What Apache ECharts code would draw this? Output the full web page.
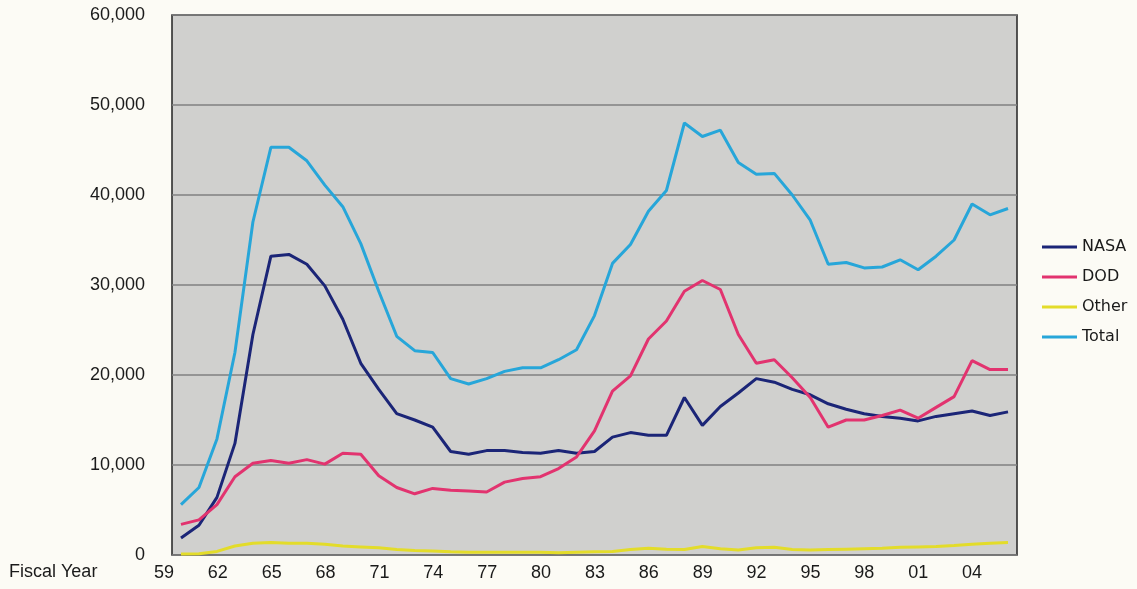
<!DOCTYPE html>
<html>
<head>
<meta charset="utf-8">
<script src="https://cdn.jsdelivr.net/npm/echarts@6/dist/echarts.min.js"></script>
<style>
html,body{margin:0;padding:0;background:#fcfbf5;}
#c{width:1137px;height:589px;}
</style>
</head>
<body>
<div id="c"></div>
<script>
// Fiscal years (categories)
const years = [1960,1961,1962,1963,1964,1965,1966,1967,1968,1969,1970,1971,1972,1973,1974,1975,1976,1977,1978,1979,
  1980,1981,1982,1983,1984,1985,1986,1987,1988,1989,1990,1991,1992,1993,1994,1995,1996,1997,1998,1999,
  2000,2001,2002,2003,2004,2005,2006];

const nasa = [1900,3300,6400,12400,24500,33200,33400,32300,29900,26200,21300,18400,15700,15000,14200,11500,11200,11600,11600,11400,
  11300,11600,11300,11500,13100,13600,13300,13300,17500,14400,16500,18000,19600,19200,18400,17800,16800,16200,15700,15400,
  15200,14900,15400,15700,16000,15500,15900];

const dod = [3400,3900,5600,8700,10200,10500,10200,10600,10100,11300,11200,8800,7500,6800,7400,7200,7100,7000,8100,8500,
  8700,9600,10900,13800,18200,19900,24000,26000,29300,30500,29500,24500,21300,21700,19700,17500,14200,15000,15000,15500,
  16100,15200,16400,17600,21600,20600,20600];

const other = [100,150,400,1000,1300,1400,1300,1300,1200,1000,900,800,600,500,450,350,300,300,300,300,
  300,250,300,350,400,600,750,650,600,950,700,550,800,850,600,550,600,650,700,750,
  850,900,950,1050,1200,1300,1400];

const total = [5600,7500,12900,22500,37000,45300,45300,43800,41100,38700,34600,29300,24300,22700,22500,19600,19000,19600,20400,20800,
  20800,21700,22800,26600,32400,34500,38200,40500,48000,46500,47200,43600,42300,42400,40000,37200,32300,32500,31900,32000,
  32800,31700,33200,35000,39000,37800,38500];

const seriesNames = ['NASA','DOD','Other','Total'];
const seriesData = [nasa, dod, other, total];
const seriesColors = ['#1b2577','#e2336f','#e3dc2a','#27a6d9'];

const labelFont = 'Arial, "Liberation Sans", Helvetica, sans-serif';

const chart = echarts.init(document.getElementById('c'), null, {renderer:'canvas'});
const option = {
  backgroundColor: '#fcfbf5',
  animation: false,
  title: {
    text: 'Fiscal Year',
    left: 9, top: 563, padding: 0,
    textStyle: {fontFamily: labelFont, fontSize: 18, fontWeight: 'normal', color: '#1a1a1a'}
  },
  legend: {
    orient: 'vertical',
    left: 1037, top: 233,
    itemWidth: 35, itemHeight: 3, itemGap: 12,
    icon: 'rect',
    textStyle: {fontFamily: '"DejaVu Sans", Verdana, sans-serif', fontSize: 16, color: '#1a1a1a', lineHeight: 18},
    data: seriesNames
  },
  grid: [
    {left: 172, right: 120, top: 15, bottom: 34, show: true, backgroundColor: '#d0d0ce', borderColor: '#2e2e2e', borderWidth: 1.6},
    {left: 164, right: 120, top: 15, bottom: 34}
  ],
  xAxis: [
    {type: 'category', gridIndex: 0, data: years, boundaryGap: true,
     axisLine: {show: false}, axisTick: {show: false}, axisLabel: {show: false}, splitLine: {show: false}},
    {type: 'value', gridIndex: 1, min: 1959, max: 2006.5, interval: 3,
     axisLine: {show: false}, axisTick: {show: false}, splitLine: {show: false},
     axisLabel: {showMaxLabel: false, margin: 9, fontFamily: labelFont, fontSize: 18, color: '#1a1a1a',
       formatter: v => String(v % 100).padStart(2, '0')}}
  ],
  yAxis: [
    {type: 'value', gridIndex: 0, min: 0, max: 60000, interval: 10000,
     axisLine: {show: false}, axisTick: {show: false},
     splitLine: {lineStyle: {color: '#808080', width: 1.5}},
     axisLabel: {margin: 27, fontFamily: labelFont, fontSize: 18, color: '#1a1a1a',
       formatter: v => v.toLocaleString('en-US')}},
    {type: 'value', gridIndex: 1, show: false}
  ],
  series: seriesNames.map((n, i) => ({
    name: n,
    type: 'line',
    xAxisIndex: 0, yAxisIndex: 0,
    data: seriesData[i],
    symbol: 'none',
    lineStyle: {color: seriesColors[i], width: 3},
    itemStyle: {color: seriesColors[i]},
    z: i === 2 ? 1 : 2
  }))
};
chart.setOption(option);
</script>
</body>
</html>
